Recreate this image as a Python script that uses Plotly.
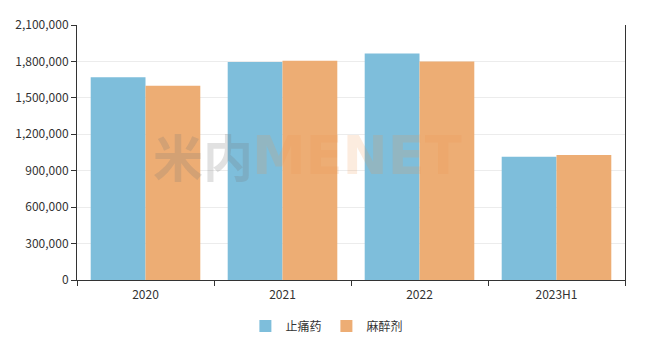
import plotly.graph_objects as go

categories = ["2020", "2021", "2022", "2023H1"]
painkillers = [1670000, 1795000, 1865000, 1015000]
anesthetics = [1600000, 1805000, 1800000, 1030000]
series_names = ["止痛药", "麻醉剂"]
y_ticks = [0, 300000, 600000, 900000, 1200000, 1500000, 1800000, 2100000]

font_family = "Noto Sans CJK SC, Noto Sans, sans-serif"

fig = go.Figure()
fig.add_trace(go.Bar(x=categories, y=painkillers, name=series_names[0],
                     marker=dict(color="#7ebedb", line=dict(width=0))))
fig.add_trace(go.Bar(x=categories, y=anesthetics, name=series_names[1],
                     marker=dict(color="#edad74", line=dict(width=0))))

# watermark
fig.add_annotation(x=0.325, y=0.49, xref="paper", yref="paper",
                   text="<b>米内</b>", showarrow=False, xanchor="right",
                   font=dict(size=50, color="rgba(120,120,120,0.22)", family=font_family))
fig.add_annotation(x=0.315, y=0.49, xref="paper", yref="paper",
                   text="<b>MENET</b>", showarrow=False, xanchor="left",
                   font=dict(size=54, color="rgba(240,150,80,0.18)", family="DejaVu Sans"))

fig.update_layout(
    width=647, height=347,
    margin=dict(l=77, r=22, t=25, b=67, autoexpand=False),
    paper_bgcolor="white", plot_bgcolor="white",
    barmode="group", bargap=0.2, bargroupgap=0,
    font=dict(family=font_family, size=12, color="#333"),
    legend=dict(orientation="h", x=0.456, xanchor="center",
                y=-0.18, yanchor="middle", font=dict(size=12, color="#333")),
    showlegend=True,
)
fig.update_xaxes(type="category", showline=True, linecolor="#333", linewidth=1,
                 ticks="outside", tickson="boundaries", ticklen=5, tickcolor="#333",
                 showgrid=False, tickfont=dict(size=12, color="#333"), tickangle=0,
                 ticklabelstandoff=4)
fig.update_yaxes(range=[0, 2100000], tickvals=y_ticks, tickformat=",",
                 showline=True, linecolor="#333", linewidth=1, mirror=True,
                 ticks="outside", ticklen=5, tickcolor="#333",
                 showgrid=True, gridcolor="#ececec", gridwidth=1, zeroline=False,
                 tickfont=dict(size=12, color="#333"))

fig.write_html("out.html")
